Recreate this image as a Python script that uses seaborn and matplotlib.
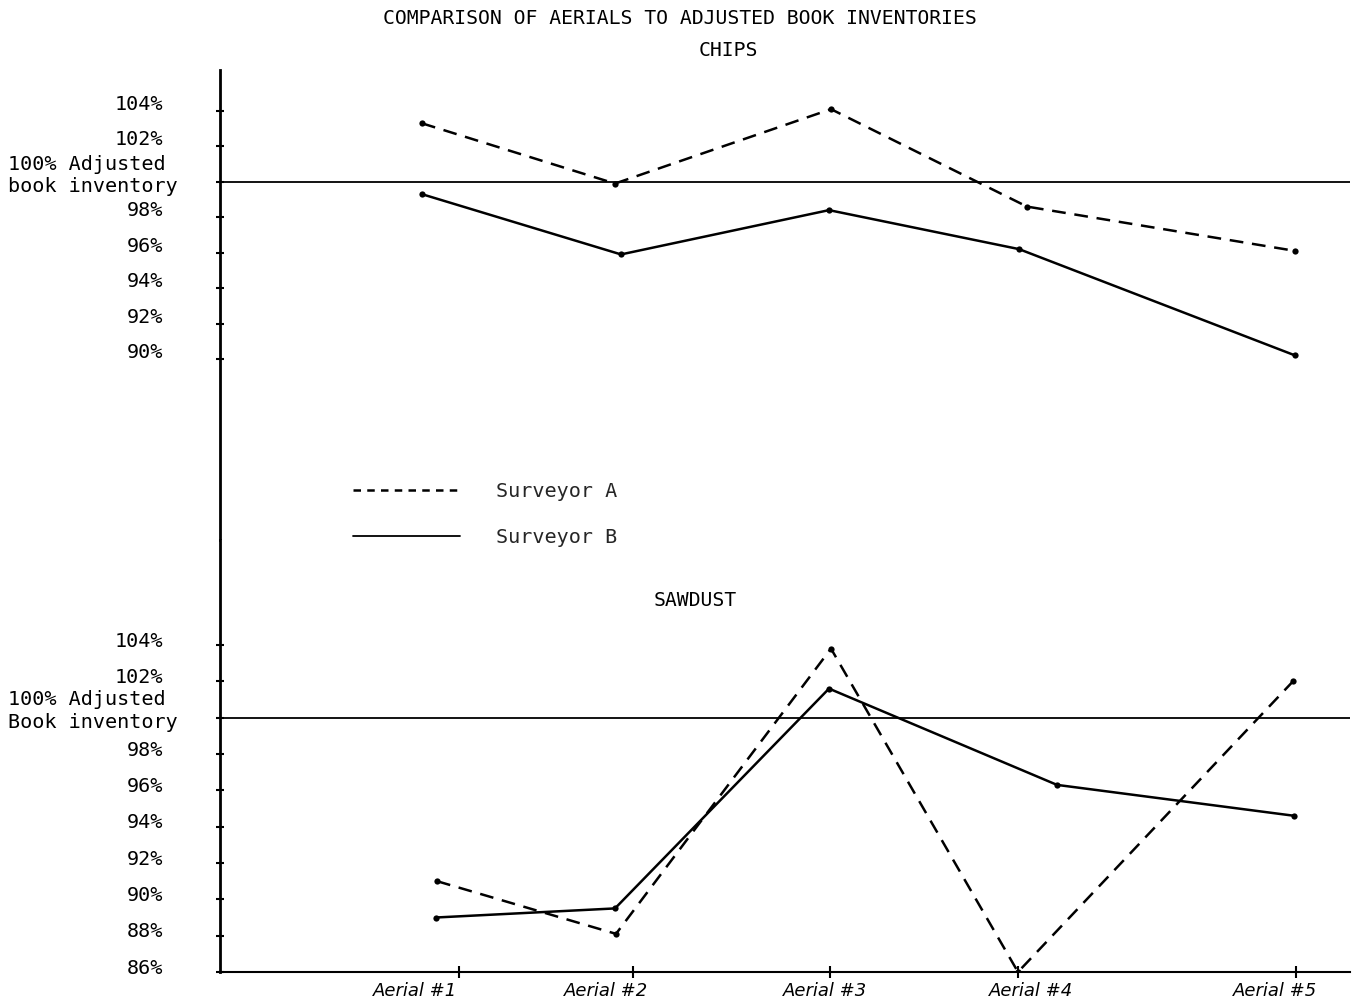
import numpy as np
import pandas as pd
import matplotlib
matplotlib.use("Agg")
import matplotlib.pyplot as plt
import seaborn as sns
from matplotlib.lines import Line2D
from matplotlib.transforms import ScaledTranslation, blended_transform_factory

# ---------------- data ----------------
aerials = ["Aerial #1", "Aerial #2", "Aerial #3", "Aerial #4", "Aerial #5"]
surveyors = ["Surveyor A", "Surveyor B"]

# horizontal location of each hand-plotted reading along the x scale
chips_x_a = [2.02, 3.95, 6.11, 8.07, 10.75]
chips_x_b = [2.02, 4.01, 6.09, 7.99, 10.75]
chips_a = [103.3, 99.9, 104.1, 98.6, 96.1]
chips_b = [99.3, 95.9, 98.4, 96.2, 90.2]

saw_x_a = [2.17, 3.96, 6.11, 7.98, 10.73]
saw_x_b = [2.16, 3.95, 6.09, 8.37, 10.74]
saw_a = [91.0, 88.1, 103.8, 86.0, 102.0]
saw_b = [89.0, 89.5, 101.6, 96.3, 94.6]

aerial_tick_x = [2.39, 4.13, 6.10, 7.98, 10.76]
aerial_label_x = [1.95, 3.86, 6.05, 8.11, 10.55]

chips_ticks = [90, 92, 94, 96, 98, 100, 102, 104]
saw_ticks = [86, 88, 90, 92, 94, 96, 98, 100, 102, 104]
ref_label_chips = "100% Adjusted\nbook inventory"
ref_label_saw = "100% Adjusted\nBook inventory"

# ---------------- style ----------------
sns.set_theme(style="white")
plt.rcParams["font.family"] = ["DejaVu Sans Mono", "DejaVu Sans"]

W, H = 1359, 1000
fig = plt.figure(figsize=(W / 100, H / 100), dpi=100)
fig.patch.set_facecolor("white")

def fx(px):
    return px / W

def fy(py):
    return 1 - py / H

ax_top = fig.add_axes([fx(220), fy(540), fx(1350) - fx(220), fy(70) - fy(540)])
ax_bot = fig.add_axes([fx(220), fy(972), fx(1350) - fx(220), fy(540) - fy(972)])

dash = (0, (5.5, 3.5))
lw = 1.8

def draw(ax, xa, ya, xb, yb):
    sns.lineplot(x=xa, y=ya, ax=ax, color="black", lw=lw, linestyle=dash,
                 marker="o", markersize=4.5, markeredgewidth=0,
                 sort=False, estimator=None, legend=False)
    sns.lineplot(x=xb, y=yb, ax=ax, color="black", lw=lw, linestyle="-",
                 marker="o", markersize=4.5, markeredgewidth=0,
                 sort=False, estimator=None, legend=False)
    ax.axhline(100, color="black", lw=1.3, zorder=1)

draw(ax_top, chips_x_a, chips_a, chips_x_b, chips_b)
draw(ax_bot, saw_x_a, saw_a, saw_x_b, saw_b)

ax_top.set_xlim(0, 11.3)
ax_bot.set_xlim(0, 11.3)
ax_top.set_ylim(79.78, 106.31)
ax_bot.set_ylim(86, 109.78)

FS = 14.5

for ax, ticks, ref_label, shift_px in [(ax_top, chips_ticks, ref_label_chips, 8.5),
                                       (ax_bot, saw_ticks, ref_label_saw, 6.0)]:
    for s in ["top", "right"]:
        ax.spines[s].set_visible(False)
    ax.spines["left"].set_linewidth(2.0)
    ax.spines["left"].set_color("black")
    ax.set_yticks(ticks)
    ax.set_yticklabels(["" if t == 100 else f"{t}%" for t in ticks])
    ax.tick_params(axis="y", direction="inout", length=6, width=1.5,
                   pad=38, labelsize=FS, colors="black", left=True)
    shift = ScaledTranslation(0, shift_px / 100, fig.dpi_scale_trans)
    for lab in ax.get_yticklabels():
        lab.set_transform(lab.get_transform() + shift)
    ax.set_xlabel("")
    ax.set_ylabel("")
    trans = blended_transform_factory(ax.transAxes, ax.transData)
    ax.text((8 - 220) / 1130, 100.35, ref_label, transform=trans,
            ha="left", va="center", fontsize=FS, color="black",
            linespacing=1.25)

ax_top.spines["bottom"].set_visible(False)
ax_top.set_xticks([])

ax_bot.spines["bottom"].set_linewidth(1.5)
ax_bot.spines["bottom"].set_color("black")
ax_bot.set_xticks(aerial_label_x)
ax_bot.set_xticklabels(aerials, fontsize=13, family="DejaVu Sans",
                       fontstyle="italic")
ax_bot.tick_params(axis="x", which="major", length=0, pad=7, colors="black")
ax_bot.set_xticks(aerial_tick_x, minor=True)
ax_bot.tick_params(axis="x", which="minor", direction="inout", length=8,
                   width=1.5, bottom=True, color="black")

# titles
fig.text(fx(680), fy(19), "COMPARISON OF AERIALS TO ADJUSTED BOOK INVENTORIES",
         ha="center", va="center", fontsize=14.2, color="black")
fig.text(fx(728), fy(51), "CHIPS", ha="center", va="center", fontsize=14.2,
         color="black")
fig.text(fx(695), fy(600), "SAWDUST", ha="center", va="center", fontsize=14.2,
         color="black")

# legend
handles = [Line2D([0], [0], color="black", lw=1.8, linestyle=(0, (3, 2.5))),
           Line2D([0], [0], color="black", lw=1.3, linestyle="-")]
fig.legend(handles, surveyors, loc="upper left",
           bbox_to_anchor=(fx(353), fy(482)), frameon=False,
           fontsize=FS, handlelength=5.3, handletextpad=1.8,
           labelspacing=1.35, borderpad=0, borderaxespad=0)

fig.savefig("out.png", dpi=100, facecolor="white")
